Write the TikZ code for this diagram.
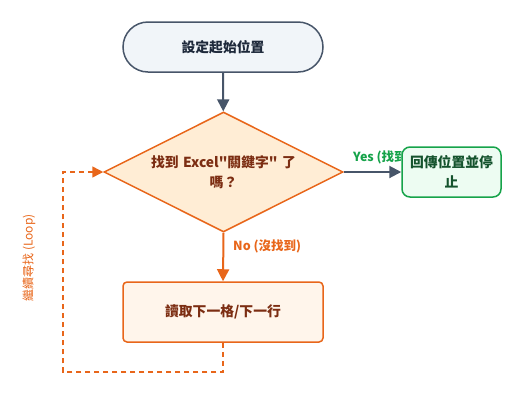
\documentclass[tikz,border=0pt]{standalone}
\usepackage{fontspec}
\setmainfont{Noto Sans CJK TC}[Ligatures=TeXOff]
\usetikzlibrary{shapes.geometric,arrows.meta}
\definecolor{slate}{HTML}{475569}
\definecolor{slatefill}{HTML}{F1F5F9}
\definecolor{orng}{HTML}{E8661A}
\definecolor{peach}{HTML}{FFEDD5}
\definecolor{cream}{HTML}{FFF5EB}
\definecolor{brown}{HTML}{7C2D12}
\definecolor{grn}{HTML}{16A34A}
\definecolor{grnfill}{HTML}{EDFCF2}
\definecolor{dkgrn}{HTML}{14532D}
\definecolor{darktext}{HTML}{1E293B}
\tikzset{
  every node/.style={font=\fontsize{13.8}{19.5}\selectfont\bfseries},
  startbox/.style={draw=slate, fill=slatefill, line width=1.5pt, rounded corners=25pt, minimum width=200pt, minimum height=50pt, text=darktext},
  decbox/.style={draw=orng, fill=peach, line width=1.5pt, diamond, aspect=2, minimum width=239pt, minimum height=120pt, inner sep=0pt, text=brown, align=center, text width=160pt},
  procbox/.style={draw=orng, fill=cream, line width=1.5pt, rounded corners=4pt, minimum width=200pt, minimum height=60pt, text=brown},
  endbox/.style={draw=grn, fill=grnfill, line width=1.5pt, rounded corners=8pt, minimum width=99pt, minimum height=50pt, text=dkgrn, align=center, text width=92pt, inner sep=3pt},
  darrow/.style={draw=slate, line width=2pt, -{Triangle[length=12pt,width=12pt]}},
  oarrow/.style={draw=orng, line width=2pt, -{Triangle[length=12pt,width=12pt]}},
  loop/.style={draw=orng, line width=1.5pt, dash pattern=on 5pt off 4pt, -{Triangle[length=11pt,width=11pt]}},
  lbl/.style={font=\fontsize{12.5}{14}\selectfont\bfseries, inner sep=0pt},
}
\begin{document}
\begin{tikzpicture}[x=1pt,y=-1pt]
\useasboundingbox (0,0) rectangle (516,400);
\node[startbox] (start) at (223,47) {設定起始位置};
\node[decbox] (dec) at (223.5,172) {找到 Excel"關鍵字" 了\\嗎？};
\node[procbox] (proc) at (223,312) {讀取下一格/下一行};
\node[lbl, anchor=west, text=grn] (yes) at (353,157) {Yes (找到)};
\node[endbox] (end) at (451.5,172) {回傳位置並停\\止};
\node[lbl, anchor=west, text=orng] (no) at (233,246) {No (沒找到)};
\coordinate (c1) at (223,372);
\coordinate (c2) at (63,372);
\coordinate (c3) at (63,172);
\node[rotate=90, text=orng, font=\fontsize{12}{14}\selectfont, inner sep=0pt] (loopl) at (29,258) {繼續尋找 (Loop)};
\draw[darrow] (start) -- (dec);
\draw[darrow] (dec.east) -- (end.west);
\draw[oarrow] (dec.south) -- (proc.north);
\draw[loop] (proc.south) -- (c1) -- (c2) -- (c3) -- (dec.west);
\end{tikzpicture}
\end{document}
